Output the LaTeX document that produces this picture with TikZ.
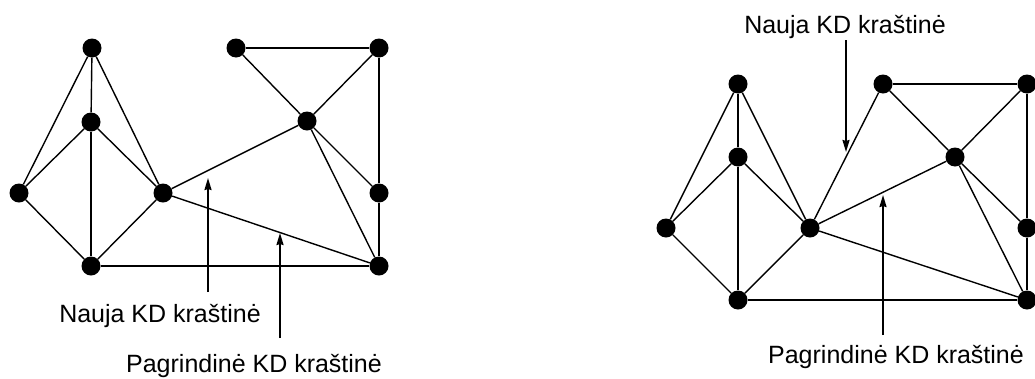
\documentclass[tikz,border=0pt]{standalone}
\usepackage{fontspec}
\setmainfont{Liberation Sans}
\usetikzlibrary{arrows.meta}

\begin{document}
\begin{tikzpicture}[x=1pt, y=-1pt,
  vtx/.style={circle, fill=black, inner sep=0pt, minimum size=19pt},
  edge/.style={line width=1.4pt, color=black},
  arrow/.style={-{Stealth[length=12pt, width=7pt, inset=1pt]}, line width=1.8pt, color=black},
  lbl/.style={font=\fontsize{25}{30}\selectfont, inner sep=0pt, anchor=base, text=black}
]
\useasboundingbox (0,0) rectangle (1035,378);

% left triangulation
\node[vtx] (a) at (92,48) {};
\node[vtx] (b) at (91,122) {};
\node[vtx] (c) at (19,193) {};
\node[vtx] (d) at (163,193) {};
\node[vtx] (e) at (91,266) {};
\node[vtx] (f) at (236,48) {};
\node[vtx] (g) at (379,48) {};
\node[vtx] (h) at (307,121) {};
\node[vtx] (i) at (379,193) {};
\node[vtx] (j) at (379,266) {};

\foreach \u/\v in {a/b, a/c, a/d, b/c, b/d, b/e, c/e, d/e, e/j,
                   f/g, f/h, g/h, g/i, h/i, h/j, i/j, d/h, d/j}
  \draw[edge] (\u) -- (\v);

% right triangulation, one more edge
\node[vtx] (a2) at (738,84) {};
\node[vtx] (b2) at (738,157) {};
\node[vtx] (c2) at (666,228) {};
\node[vtx] (d2) at (810,228) {};
\node[vtx] (e2) at (738,300) {};
\node[vtx] (f2) at (883,84) {};
\node[vtx] (g2) at (1027,84) {};
\node[vtx] (h2) at (955,157) {};
\node[vtx] (i2) at (1027,228) {};
\node[vtx] (j2) at (1027,300) {};

\foreach \u/\v in {a2/b2, a2/c2, a2/d2, b2/c2, b2/d2, b2/e2, c2/e2, d2/e2, e2/j2,
                   f2/g2, f2/h2, g2/h2, g2/i2, h2/i2, h2/j2, i2/j2, d2/h2, d2/j2, d2/f2}
  \draw[edge] (\u) -- (\v);

% labels
\node[lbl] (newL)  at (160,322) {Nauja KD kraštinė};
\node[lbl] (mainL) at (254,372) {Pagrindinė KD kraštinė};
\node[lbl] (newR)  at (845,33)  {Nauja KD kraštinė};
\node[lbl] (mainR) at (896,363) {Pagrindinė KD kraštinė};

% pointers
\coordinate (newLfrom)  at (208,292);
\coordinate (newLto)    at (208,178);
\coordinate (mainLfrom) at (280,338);
\coordinate (mainLto)   at (280,233);
\coordinate (newRfrom)  at (846,40);
\coordinate (newRto)    at (846,152);
\coordinate (mainRfrom) at (883,335);
\coordinate (mainRto)   at (883,195);

\draw[arrow] (newLfrom) -- (newLto);
\draw[arrow] (mainLfrom) -- (mainLto);
\draw[arrow] (newRfrom) -- (newRto);
\draw[arrow] (mainRfrom) -- (mainRto);

\end{tikzpicture}
\end{document}
